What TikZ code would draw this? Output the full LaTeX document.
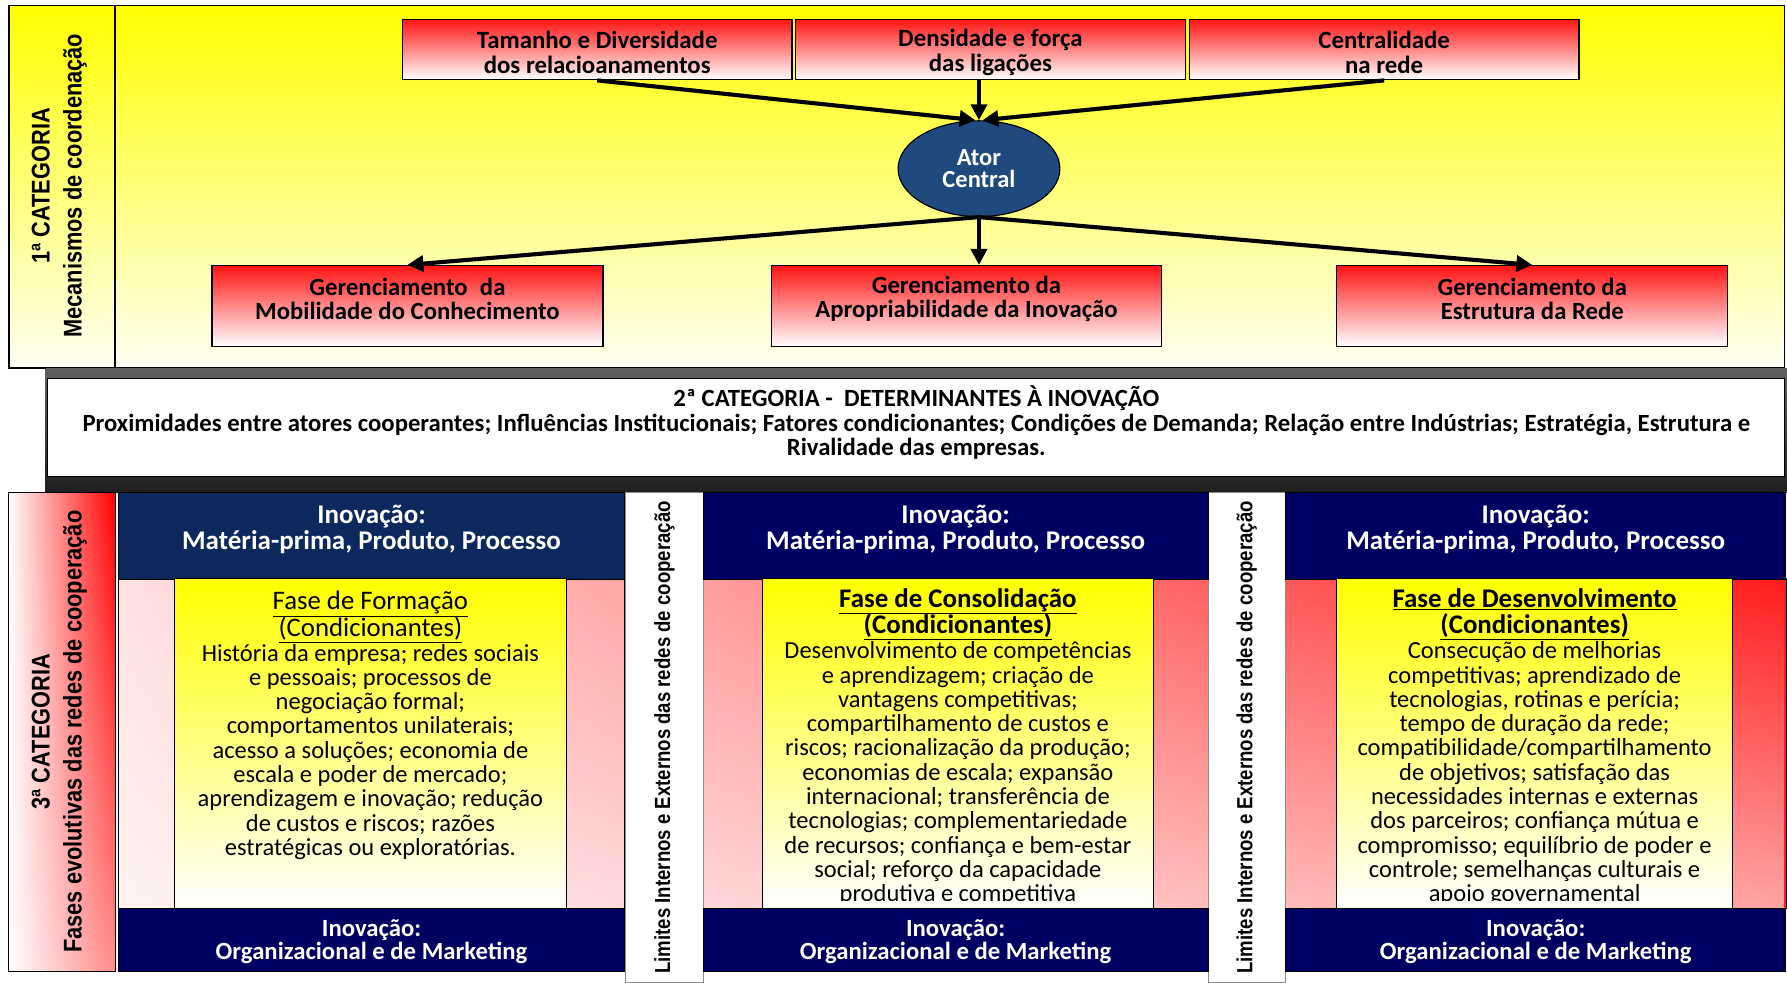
\documentclass[tikz,border=0pt]{standalone}
\usepackage{fontspec}
\setmainfont{Carlito}
\newfontfamily\labelsans[FakeStretch=0.85]{Liberation Sans}
\usetikzlibrary{arrows.meta,shapes.geometric,fadings}

\definecolor{boxred}{RGB}{255,20,20}
\definecolor{actorblue}{RGB}{32,74,126}
\definecolor{navytop}{RGB}{12,40,92}
\definecolor{navy}{RGB}{0,0,98}
\definecolor{pinkleft}{RGB}{255,226,226}
\definecolor{redright}{RGB}{255,28,28}
\definecolor{paleyellow}{RGB}{255,255,242}

\tikzfading[name=fadebottom, top color=transparent!100, bottom color=transparent!0]

\begin{document}
\begin{tikzpicture}[x=1pt,y=-1pt,
  mechbox/.style={draw=black, line width=1.1pt, top color=boxred, bottom color=white,
    inner sep=0pt, minimum width=342pt, minimum height=53pt},
  mechtext/.style={align=center, inner sep=0pt, font=\bfseries\fontsize{21.8}{22}\selectfont},
  mgmtbox/.style={draw=black, line width=1.1pt, top color=boxred, bottom color=white,
    inner sep=0pt, minimum width=343pt, minimum height=71pt},
  mgmttext/.style={align=center, inner sep=0pt, font=\bfseries\fontsize{21.7}{21}\selectfont},
  actor/.style={ellipse, draw=black, line width=1pt, fill=actorblue, text=white,
    minimum width=142pt, minimum height=84pt, inner sep=0pt, align=center,
    font=\bfseries\fontsize{21.5}{21}\selectfont},
  link/.style={line width=3.6pt, -{Triangle[length=14pt,width=14pt]}},
  catlabel/.style={rotate=90, align=center, inner sep=0pt,
    font=\labelsans\bfseries\fontsize{22.5}{28}\selectfont},
  limlabel/.style={rotate=90, inner sep=0pt,
    font=\labelsans\bfseries\fontsize{19.2}{20}\selectfont},
  navyband/.style={draw=black, line width=0.8pt, fill=navy},
  navytext/.style={text=white, align=center, inner sep=0pt,
    font=\bfseries\fontsize{23.7}{23}\selectfont},
  navytextb/.style={text=white, align=center, inner sep=0pt,
    font=\bfseries\fontsize{21.7}{20}\selectfont},
  phasebox/.style={draw=black, line width=0.9pt, top color=yellow, bottom color=white,
    inner sep=0pt, minimum height=289pt},
  phasehead/.style={align=center, inner sep=0pt, anchor=north,
    font=\fontsize{23.5}{23.5}\selectfont},
  phaseheadbf/.style={phasehead, font=\bfseries\fontsize{23.6}{23.5}\selectfont},
  phasebody/.style={align=center, inner sep=0pt, anchor=north,
    font=\fontsize{21.5}{21.3}\selectfont},
  sidestrip/.style={draw=black, line width=0.6pt},
  limstrip/.style={draw=black!45, line width=0.8pt, fill=white},
]
\useasboundingbox (0,0) rectangle (1568,862);
\fill[white] (0,0) rectangle (1568,862);

% ---------- 1st category: coordination mechanisms ----------
\shade[top color=yellow, bottom color=paleyellow] (8,5) rectangle (1566,323);
\draw[line width=1.1pt] (8,5) rectangle (1566,323);
\draw[line width=1.1pt] (101,5) -- (101,323);
\node[catlabel] (cat1lbl) at (52,163) {1ª CATEGORIA\\Mecanismos de coordenação};

\node[mechbox] (tam) at (524,43.5) {};
\node[mechbox] (den) at (869,43.5) {};
\node[mechbox] (cen) at (1214.5,43.5) {};
\node[mechtext] (tamtxt) at ([yshift=-2.5pt]tam.center) {Tamanho e Diversidade\\dos relacioanamentos};
\node[mechtext] (dentxt) at ([yshift=-2.5pt]den.center) {Densidade e força\\das ligações};
\node[mechtext] (centxt) at ([yshift=-2.5pt]cen.center) {Centralidade\\na rede};

\node[actor] (ator) at (859,148) {Ator\\[-1pt]Central};

\node[mgmtbox] (mob) at (357.5,268.5) {};
\node[mgmtbox, minimum width=342pt] (apr) at (848,268.5) {};
\node[mgmtbox] (est) at (1344.5,268.5) {};
\node[mgmttext] (mobtxt) at ([yshift=6.5pt]mob.center) {Gerenciamento\enspace da\\Mobilidade do Conhecimento};
\node[mgmttext] (aprtxt) at ([yshift=6.5pt]apr.center) {Gerenciamento da\\Apropriabilidade da Inovação};
\node[mgmttext] (esttxt) at ([yshift=6.5pt]est.center) {Gerenciamento da\\Estrutura da Rede};

\draw[link] (tam.south) -- ([xshift=-3pt]ator.north);
\draw[link] (ator.north |- den.south) -- (ator.north);
\draw[link] (cen.south) -- ([xshift=3pt]ator.north);
\draw[link] (ator.south) -- (mob.north);
\draw[link] (ator.south) -- (ator.south |- apr.north);
\draw[link] (ator.south) -- (est.north);

% ---------- 2nd category: determinants ----------
\shade[top color=black!62, bottom color=black!88] (40,323) rectangle (1568,432);
\node[draw=black, line width=1pt, fill=white, minimum width=1524pt, minimum height=86pt,
  inner sep=0pt] (cat2) at (804,375) {};
\node[align=center, inner sep=0pt, font=\bfseries\fontsize{21.7}{21.5}\selectfont] (cat2txt)
  at ([yshift=4pt]cat2.center)
  {2ª CATEGORIA -~ DETERMINANTES À INOVAÇÃO\\
   Proximidades entre atores cooperantes; Influências Institucionais; Fatores condicionantes; Condições de Demanda; Relação entre Indústrias; Estratégia, Estrutura e\\
   Rivalidade das empresas.};

% ---------- 3rd category: evolutionary phases ----------
\shade[left color=white, right color=red] (7,432) rectangle (101,852);
\fill[white, fill opacity=0.55, path fading=fadebottom] (7,432) rectangle (101,852);
\draw[line width=0.8pt] (7,432) rectangle (101,852);
\node[catlabel] (cat3lbl) at (52,642) {3ª CATEGORIA\\Fases evolutivas das redes de cooperação};

% reddish background behind the phase boxes
\shade[left color=pinkleft, right color=redright] (104,508) rectangle (1568,797);
\fill[white, fill opacity=0.6, path fading=fadebottom] (104,508) rectangle (1568,797);

% side strips
\draw[sidestrip] (104,508) rectangle (153,797);
\draw[sidestrip] (497,508) rectangle (548,797);
\draw[sidestrip] (617,508) rectangle (669,797);
\draw[sidestrip] (1012,508) rectangle (1060,797);
\draw[sidestrip] (1128,508) rectangle (1173,797);
\draw[sidestrip] (1520,508) rectangle (1567,797);

% boundary strips
\draw[limstrip] (549,432) rectangle (617,862);
\draw[limstrip] (1060,432) rectangle (1128,862);
\node[limlabel] (lim1) at (583,647) {Limites Internos e Externos das redes de cooperação};
\node[limlabel] (lim2) at (1094,647) {Limites Internos e Externos das redes de cooperação};

% innovation bands
\draw[navyband, fill=navytop] (104,432) rectangle (548,508);
\draw[navyband] (617,432) rectangle (1060,508);
\draw[navyband] (1128,432) rectangle (1567,508);
\draw[navyband] (104,797) rectangle (548,852);
\draw[navyband] (617,797) rectangle (1060,852);
\draw[navyband] (1128,797) rectangle (1567,852);

\node[navytext] (inov1) at (326,464.5) {Inovação:\\Matéria-prima, Produto, Processo};
\node[navytext] (inov2) at (838.5,464.5) {Inovação:\\Matéria-prima, Produto, Processo};
\node[navytext] (inov3) at (1347.5,464.5) {Inovação:\\Matéria-prima, Produto, Processo};
\node[navytextb] (org1) at (326,826.5) {Inovação:\\Organizacional e de Marketing};
\node[navytextb] (org2) at (838.5,826.5) {Inovação:\\Organizacional e de Marketing};
\node[navytextb] (org3) at (1347.5,826.5) {Inovação:\\Organizacional e de Marketing};

% phase boxes
\node[phasebox, minimum width=344pt] (ph1) at (325,652.5) {};
\node[phasebox, minimum width=343pt] (ph2) at (840.5,652.5) {};
\node[phasebox, minimum width=347pt] (ph3) at (1346.5,652.5) {};

\node[phasehead] (ph1h) at (325,518.5) {\underline{Fase de Formação}\\\underline{(Condicionantes)}};
\node[phasebody] (ph1b) at (325,565) {História da empresa; redes sociais\\
  e pessoais; processos de\\
  negociação formal;\\
  comportamentos unilaterais;\\
  acesso a soluções; economia de\\
  escala e poder de mercado;\\
  aprendizagem e inovação; redução\\
  de custos e riscos; razões\\
  estratégicas ou exploratórias.};

\node[phaseheadbf] (ph2h) at (840.5,516)
  {\underline{Fase de Consolidação}\\\underline{(Condicionantes)}};
\begin{scope}
  \clip (ph2.north west) rectangle ([yshift=7pt]ph2.south east);
  \node[phasebody] (ph2b) at (840.5,563) {Desenvolvimento de competências\\
    e aprendizagem; criação de\\
    vantagens competitivas;\\
    compartilhamento de custos e\\
    riscos; racionalização da produção;\\
    economias de escala; expansão\\
    internacional; transferência de\\
    tecnologias; complementariedade\\
    de recursos; confiança e bem-estar\\
    social; reforço da capacidade\\
    produtiva e competitiva};
\end{scope}

\node[phaseheadbf] (ph3h) at (1346.5,516)
  {\underline{Fase de Desenvolvimento}\\\underline{(Condicionantes)}};
\begin{scope}
  \clip (ph3.north west) rectangle ([yshift=7pt]ph3.south east);
  \node[phasebody] (ph3b) at (1346.5,563) {Consecução de melhorias\\
    competitivas; aprendizado de\\
    tecnologias, rotinas e perícia;\\
    tempo de duração da rede;\\
    compatibilidade/compartilhamento\\
    de objetivos; satisfação das\\
    necessidades internas e externas\\
    dos parceiros; confiança mútua e\\
    compromisso; equilíbrio de poder e\\
    controle; semelhanças culturais e\\
    apoio governamental};
\end{scope}
\end{tikzpicture}
\end{document}
